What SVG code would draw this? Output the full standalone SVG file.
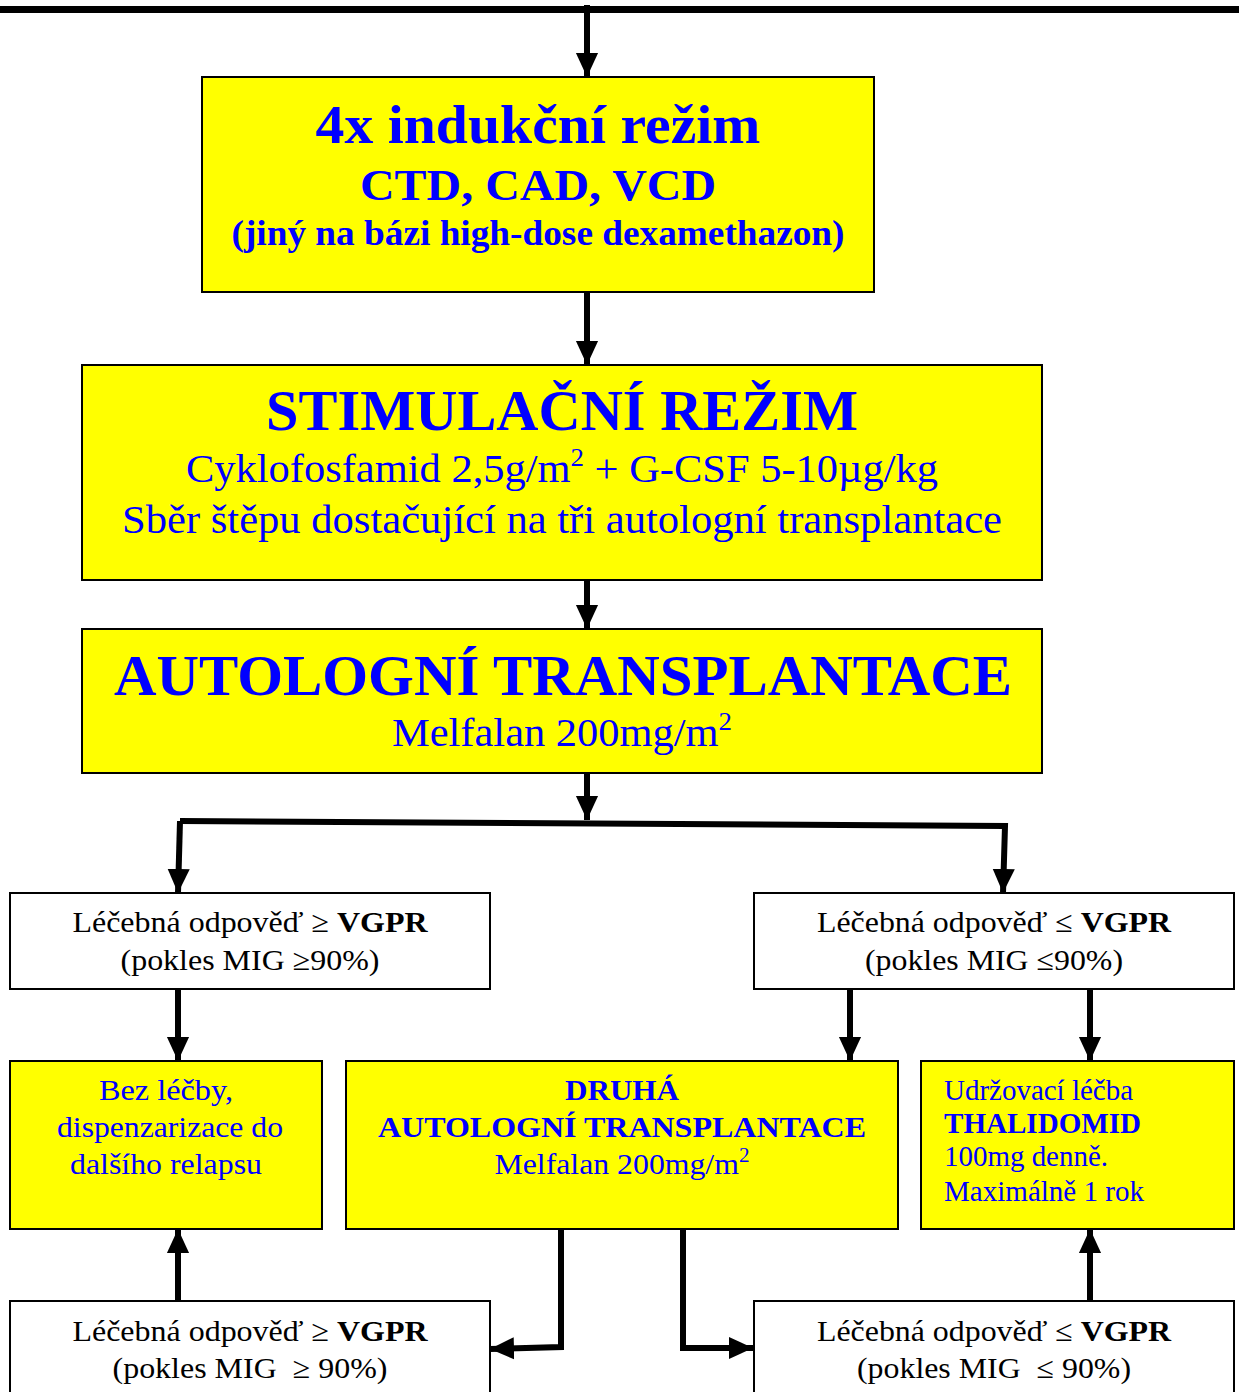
<svg xmlns="http://www.w3.org/2000/svg" width="1239" height="1392" viewBox="0 0 1239 1392">
<style>
.y{fill:#ffff00;stroke:#000;stroke-width:2}
.w{fill:#fff;stroke:#000;stroke-width:2}
.t{font-family:"Liberation Serif","Times New Roman",serif;text-anchor:middle}
.l{font-family:"Liberation Serif","Times New Roman",serif;text-anchor:start}
.b{fill:#0000ff}
.k{fill:#000}
.c{fill:none;stroke:#000;stroke-width:6;stroke-linejoin:miter}
.bold{font-weight:bold}
</style>
<defs>
<marker id="ah" markerUnits="userSpaceOnUse" markerWidth="24" markerHeight="26" refX="26" refY="12" orient="auto" viewBox="0 0 26 24">
<path d="M0,0 L26,12 L0,24 Z" fill="#000"/>
</marker>
</defs>
<rect x="0" y="6" width="1239" height="7" fill="#000"/>
<g id="connectors">
<path class="c" d="M587,5 V77" marker-end="url(#ah)"/>
<path class="c" d="M587,292 V365" marker-end="url(#ah)"/>
<path class="c" d="M587,580 V629" marker-end="url(#ah)"/>
<path class="c" d="M587,773 V820" marker-end="url(#ah)"/>
<path class="c" d="M180,821 L1005,826 L1003,893" marker-end="url(#ah)"/>
<path class="c" d="M180,821 L178,893" marker-end="url(#ah)"/>
<path class="c" d="M178,989 V1061" marker-end="url(#ah)"/>
<path class="c" d="M850,989 V1061" marker-end="url(#ah)"/>
<path class="c" d="M1090,989 V1061" marker-end="url(#ah)"/>
<path class="c" d="M178,1301 V1229" marker-end="url(#ah)"/>
<path class="c" d="M1090,1301 V1229" marker-end="url(#ah)"/>
<path class="c" d="M561,1229 V1347 L490,1349" marker-end="url(#ah)"/>
<path class="c" d="M683,1229 V1348 L753,1348" marker-end="url(#ah)"/>
</g>
<g id="n1">
<rect class="y" x="202" y="77" width="672" height="215"/>
<text class="t b bold" x="538" y="143" font-size="54" textLength="445" lengthAdjust="spacingAndGlyphs">4x indukční režim</text>
<text class="t b bold" x="538" y="200" font-size="45" textLength="356" lengthAdjust="spacingAndGlyphs">CTD, CAD, VCD</text>
<text class="t b bold" x="538" y="245" font-size="35" textLength="613" lengthAdjust="spacingAndGlyphs">(jiný na bázi high-dose dexamethazon)</text>
</g>
<g id="n2">
<rect class="y" x="82" y="365" width="960" height="215"/>
<text class="t b bold" x="562" y="430" font-size="57" textLength="592" lengthAdjust="spacingAndGlyphs">STIMULAČNÍ REŽIM</text>
<text class="t b" x="562" y="482" font-size="41" textLength="752" lengthAdjust="spacingAndGlyphs">Cyklofosfamid 2,5g/m<tspan font-size="26" dy="-16">2</tspan><tspan dy="16"> + G-CSF 5-10µg/kg</tspan></text>
<text class="t b" x="562" y="533" font-size="41" textLength="880" lengthAdjust="spacingAndGlyphs">Sběr štěpu dostačující na tři autologní transplantace</text>
</g>
<g id="n3">
<rect class="y" x="82" y="629" width="960" height="144"/>
<text class="t b bold" x="563" y="695" font-size="57" textLength="898" lengthAdjust="spacingAndGlyphs">AUTOLOGNÍ TRANSPLANTACE</text>
<text class="t b" x="562" y="746" font-size="41" textLength="340" lengthAdjust="spacingAndGlyphs">Melfalan 200mg/m<tspan font-size="26" dy="-16">2</tspan></text>
</g>
<g id="n4">
<rect class="w" x="10" y="893" width="480" height="96"/>
<text class="t k" x="250" y="932" font-size="30" textLength="355" lengthAdjust="spacingAndGlyphs">Léčebná odpověď ≥ <tspan class="bold">VGPR</tspan></text>
<text class="t k" x="250" y="970" font-size="30" textLength="259" lengthAdjust="spacingAndGlyphs">(pokles MIG ≥90%)</text>
</g>
<g id="n5">
<rect class="w" x="754" y="893" width="480" height="96"/>
<text class="t k" x="994" y="932" font-size="30" textLength="354" lengthAdjust="spacingAndGlyphs">Léčebná odpověď ≤ <tspan class="bold">VGPR</tspan></text>
<text class="t k" x="994" y="970" font-size="30" textLength="258" lengthAdjust="spacingAndGlyphs">(pokles MIG ≤90%)</text>
</g>
<g id="n6">
<rect class="y" x="10" y="1061" width="312" height="168"/>
<text class="t b" x="166" y="1100" font-size="30" textLength="134" lengthAdjust="spacingAndGlyphs">Bez léčby,</text>
<text class="t b" x="170" y="1137" font-size="30" textLength="226" lengthAdjust="spacingAndGlyphs">dispenzarizace do</text>
<text class="t b" x="166" y="1174" font-size="30" textLength="192" lengthAdjust="spacingAndGlyphs">dalšího relapsu</text>
</g>
<g id="n7">
<rect class="y" x="346" y="1061" width="552" height="168"/>
<text class="t b bold" x="622" y="1100" font-size="30" textLength="114" lengthAdjust="spacingAndGlyphs">DRUHÁ</text>
<text class="t b bold" x="622" y="1137" font-size="30" textLength="488" lengthAdjust="spacingAndGlyphs">AUTOLOGNÍ TRANSPLANTACE</text>
<text class="t b" x="622" y="1174" font-size="30" textLength="255" lengthAdjust="spacingAndGlyphs">Melfalan 200mg/m<tspan font-size="20" dy="-12">2</tspan></text>
</g>
<g id="n8">
<rect class="y" x="921" y="1061" width="313" height="168"/>
<text class="l b" x="944" y="1100" font-size="29" textLength="189" lengthAdjust="spacingAndGlyphs">Udržovací léčba</text>
<text class="l b bold" x="944" y="1133" font-size="29" textLength="197" lengthAdjust="spacingAndGlyphs">THALIDOMID</text>
<text class="l b" x="944" y="1166" font-size="29" textLength="164" lengthAdjust="spacingAndGlyphs">100mg denně.</text>
<text class="l b" x="944" y="1201" font-size="29" textLength="200" lengthAdjust="spacingAndGlyphs">Maximálně 1 rok</text>
</g>
<g id="n9">
<rect class="w" x="10" y="1301" width="480" height="100"/>
<text class="t k" x="250" y="1341" font-size="30" textLength="355" lengthAdjust="spacingAndGlyphs">Léčebná odpověď ≥ <tspan class="bold">VGPR</tspan></text>
<text class="t k" x="250" y="1378" font-size="30" xml:space="preserve" textLength="275" lengthAdjust="spacingAndGlyphs">(pokles MIG  ≥ 90%)</text>
</g>
<g id="n10">
<rect class="w" x="754" y="1301" width="480" height="100"/>
<text class="t k" x="994" y="1341" font-size="30" textLength="354" lengthAdjust="spacingAndGlyphs">Léčebná odpověď ≤ <tspan class="bold">VGPR</tspan></text>
<text class="t k" x="994" y="1378" font-size="30" xml:space="preserve" textLength="274" lengthAdjust="spacingAndGlyphs">(pokles MIG  ≤ 90%)</text>
</g>
</svg>
